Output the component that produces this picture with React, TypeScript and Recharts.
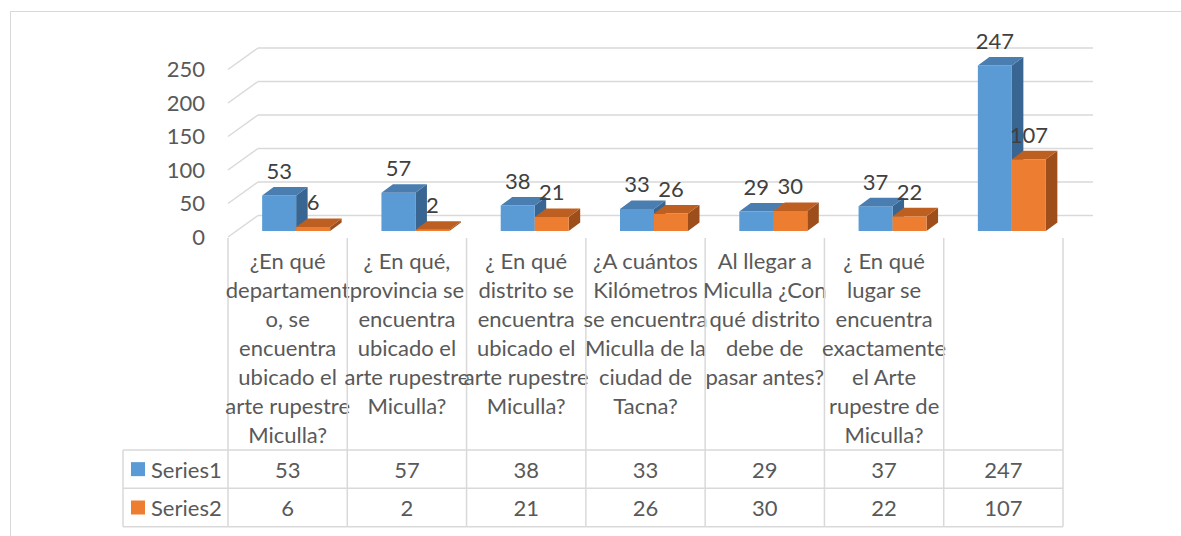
import { BarChart, Bar, XAxis, YAxis, CartesianGrid } from 'recharts'

// category labels, already broken into the lines the reference shows
const categoryLines: string[][] = [
  ['¿En qué', 'departament', 'o, se', 'encuentra', 'ubicado el', 'arte rupestre', 'Miculla?'],
  ['¿ En qué,', 'provincia se', 'encuentra', 'ubicado el', 'arte rupestre', 'Miculla?'],
  ['¿ En qué', 'distrito se', 'encuentra', 'ubicado el', 'arte rupestre', 'Miculla?'],
  ['¿A cuántos', 'Kilómetros', 'se encuentra', 'Miculla de la', 'ciudad de', 'Tacna?'],
  ['Al llegar a', 'Miculla ¿Con', 'qué distrito', 'debe de', 'pasar antes?'],
  ['¿ En qué', 'lugar se', 'encuentra', 'exactamente', 'el Arte', 'rupestre de', 'Miculla?'],
  [],
]
const series1 = [53, 57, 38, 33, 29, 37, 247]
const series2 = [6, 2, 21, 26, 30, 22, 107]
const seriesNames = ['Series1', 'Series2']
const yTicks = [0, 50, 100, 150, 200, 250]

const data = categoryLines.map((lines, i) => ({
  idx: i,
  name: lines.join(' '),
  s1: series1[i],
  s2: series2[i],
}))

const W = 1181
const H = 536
const PLOT_LEFT = 228
const PLOT_RIGHT = 1063
const PLOT_TOP = 69.5
const PLOT_BOTTOM = 237
const BAND = (PLOT_RIGHT - PLOT_LEFT) / categoryLines.length

const BLUE = { front: '#5b9bd5', top: '#4a7db0', side: '#386591' }
const ORANGE = { front: '#ed7d31', top: '#bd5f20', side: '#9d4e1a' }
const seriesColors = [BLUE, ORANGE]

// fake 3D: bars sit a bit behind the floor edge, the wall further back
const BAR_SHIFT_X = 8.5
const BAR_SHIFT_Y = -6
const DEPTH_X = 11.5
const DEPTH_Y = -8.5
const WALL_X = 30
const WALL_Y = -21.5

const GRID = '#d9d9d9'
const TEXT = '#595959'
const LABEL = '#404040'
const FONT = 'Lato, "Open Sans", sans-serif'
const FS = 22

function make3DBar(colors: typeof BLUE, key: 's1' | 's2') {
  return function Bar3D(p: any) {
    const { x, y, width: w, height: h, payload } = p
    const fx = x + BAR_SHIFT_X
    const fy = y + BAR_SHIFT_Y
    const top = `${fx},${fy} ${fx + DEPTH_X},${fy + DEPTH_Y} ${fx + w + DEPTH_X},${fy + DEPTH_Y} ${fx + w},${fy}`
    const side = `${fx + w},${fy} ${fx + w + DEPTH_X},${fy + DEPTH_Y} ${fx + w + DEPTH_X},${fy + h + DEPTH_Y} ${fx + w},${fy + h}`
    return (
      <g>
        <polygon points={side} fill={colors.side} />
        <rect x={fx} y={fy} width={w} height={h} fill={colors.front} />
        <polygon points={top} fill={colors.top} />
        <text
          x={fx + w / 2}
          y={fy - 25}
          textAnchor="middle"
          dominantBaseline="central"
          fontSize={FS}
          fontFamily={FONT}
          fill={LABEL}
        >
          {payload[key]}
        </text>
      </g>
    )
  }
}

function TableTick(props: any) {
  const { x, y, payload } = props
  const i: number = props.index ?? payload.index
  const left = x - BAND / 2
  const right = x + BAND / 2
  const rowTop = y + 213
  const rowMid = y + 251.3
  const rowBot = y + 289.7
  const legLeft = left - 105
  const line = { stroke: GRID, strokeWidth: 1.5 }
  const txt = { fontSize: FS, fontFamily: FONT, fill: TEXT, dominantBaseline: 'central' as const }
  const rows = [series1, series2]
  return (
    <g>
      <line x1={left} x2={left} y1={y + 1} y2={rowBot} {...line} />
      {i === categoryLines.length - 1 && <line x1={right} x2={right} y1={y + 1} y2={rowBot} {...line} />}
      {categoryLines[i].map((t, k) => (
        <text key={k} x={x} y={y + 23 + 29 * k} textAnchor="middle" {...txt}>
          {t}
        </text>
      ))}
      <line x1={left} x2={right} y1={rowTop} y2={rowTop} {...line} />
      <line x1={left} x2={right} y1={rowMid} y2={rowMid} {...line} />
      <line x1={left} x2={right} y1={rowBot} y2={rowBot} {...line} />
      {rows.map((r, k) => (
        <text key={k} x={x} y={k === 0 ? (rowTop + rowMid) / 2 : (rowMid + rowBot) / 2} textAnchor="middle" {...txt}>
          {r[i]}
        </text>
      ))}
      {i === 0 && (
        <g>
          <line x1={legLeft} x2={left} y1={rowTop} y2={rowTop} {...line} />
          <line x1={legLeft} x2={left} y1={rowMid} y2={rowMid} {...line} />
          <line x1={legLeft} x2={left} y1={rowBot} y2={rowBot} {...line} />
          <line x1={legLeft} x2={legLeft} y1={rowTop} y2={rowBot} {...line} />
          {seriesNames.map((n, k) => {
            const cy = k === 0 ? (rowTop + rowMid) / 2 : (rowMid + rowBot) / 2
            return (
              <g key={n}>
                <rect x={legLeft + 8} y={cy - 7} width={14} height={14} fill={seriesColors[k].front} />
                <text x={legLeft + 28} y={cy} textAnchor="start" {...txt}>
                  {n}
                </text>
              </g>
            )
          })}
        </g>
      )}
    </g>
  )
}

function WallLine(p: any) {
  const bx1 = p.x1 + WALL_X
  const bx2 = p.x2 + WALL_X
  const by = p.y1 + WALL_Y
  return (
    <g key={p.key}>
      <line x1={p.x1} y1={p.y1} x2={bx1} y2={by} stroke={GRID} strokeWidth={1.5} />
      <line x1={bx1} y1={by} x2={bx2} y2={by} stroke={GRID} strokeWidth={1.5} />
    </g>
  )
}

export default function App() {
  return (
    <div style={{ position: 'relative', width: W, height: H, overflow: 'hidden', background: '#fff' }}>
      <style>{'body{margin:0}'}</style>
      <div
        style={{
          position: 'absolute',
          left: 10,
          top: 11,
          width: W,
          height: H,
          borderTop: `1.5px solid ${GRID}`,
          borderLeft: `1.5px solid ${GRID}`,
        }}
      />
      <BarChart
        width={W}
        height={H}
        data={data}
        margin={{ top: PLOT_TOP, right: W - PLOT_RIGHT, bottom: 0, left: PLOT_LEFT - 60 }}
        barCategoryGap="21.5%"
        barGap={0}
        style={{ position: 'absolute', left: 0, top: 0 }}
      >
        <CartesianGrid vertical={false} horizontal={WallLine} />
        <YAxis
          width={60}
          type="number"
          domain={[0, 250]}
          ticks={yTicks}
          interval={0}
          axisLine={false}
          tickLine={false}
          tickSize={6}
          tickMargin={17}
          tick={{ fontSize: FS, fontFamily: FONT, fill: TEXT }}
        />
        <XAxis
          dataKey="idx"
          type="category"
          height={H - PLOT_BOTTOM}
          interval={0}
          axisLine={false}
          tickLine={false}
          tickSize={0}
          tickMargin={0}
          tick={<TableTick />}
        />
        <Bar dataKey="s1" isAnimationActive={false} shape={make3DBar(BLUE, 's1')} />
        <Bar dataKey="s2" isAnimationActive={false} shape={make3DBar(ORANGE, 's2')} />
      </BarChart>
    </div>
  )
}
